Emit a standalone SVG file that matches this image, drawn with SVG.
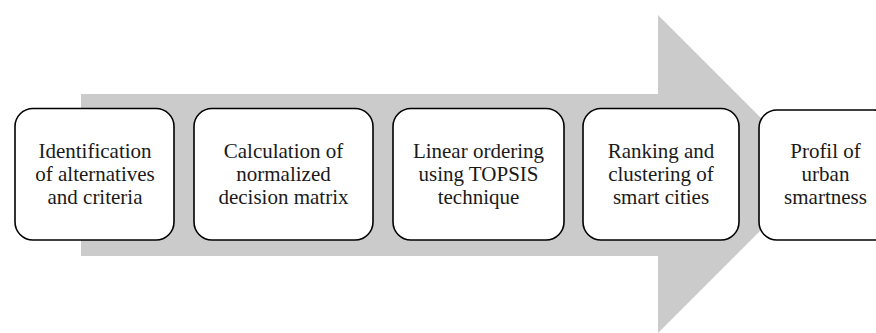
<svg xmlns="http://www.w3.org/2000/svg" width="876" height="333" viewBox="0 0 876 333">
  <style>
    .box { fill: #ffffff; stroke: #000000; stroke-width: 1.6; }
    .lbl { font-family: "Liberation Serif", "Times New Roman", serif; font-size: 21px; fill: #1a1a1a; text-anchor: middle; }
  </style>
  <rect width="876" height="333" fill="#ffffff"/>
  <g id="connectors">
    <polygon id="big-arrow" points="81,94 658,94 658,15 817,174 658,333 658,256 81,256" fill="#cbcbcb"/>
  </g>
  <g id="node1">
    <rect class="box" x="15" y="108.5" width="159" height="131.5" rx="18" ry="18"/>
    <text class="lbl" x="95" y="158">Identification</text>
    <text class="lbl" x="95" y="181">of alternatives</text>
    <text class="lbl" x="95" y="204">and criteria</text>
  </g>
  <g id="node2">
    <rect class="box" x="194" y="108.5" width="179" height="131.5" rx="18" ry="18"/>
    <text class="lbl" x="283.5" y="158">Calculation of</text>
    <text class="lbl" x="283.5" y="181">normalized</text>
    <text class="lbl" x="283.5" y="204">decision matrix</text>
  </g>
  <g id="node3">
    <rect class="box" x="393" y="108.5" width="171" height="131.5" rx="18" ry="18"/>
    <text class="lbl" x="478.5" y="158">Linear ordering</text>
    <text class="lbl" x="478.5" y="181">using TOPSIS</text>
    <text class="lbl" x="478.5" y="204">technique</text>
  </g>
  <g id="node4">
    <rect class="box" x="583" y="108.5" width="156" height="131.5" rx="18" ry="18"/>
    <text class="lbl" x="661" y="158">Ranking and</text>
    <text class="lbl" x="661" y="181">clustering of</text>
    <text class="lbl" x="661" y="204">smart cities</text>
  </g>
  <g id="node5">
    <rect class="box" x="759" y="110" width="133" height="130" rx="18" ry="18"/>
    <text class="lbl" x="825.5" y="158">Profil of</text>
    <text class="lbl" x="825.5" y="181">urban</text>
    <text class="lbl" x="825.5" y="204">smartness</text>
  </g>
</svg>
